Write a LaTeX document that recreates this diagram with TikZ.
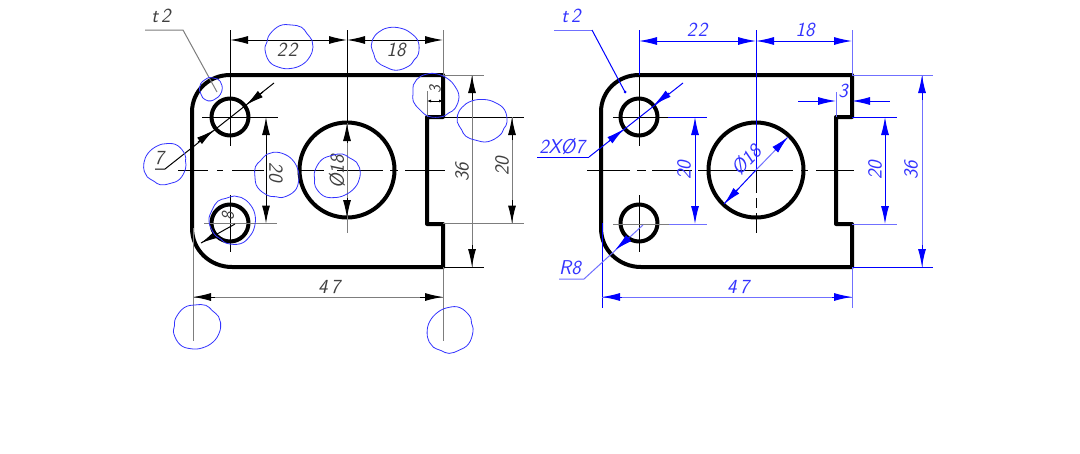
\documentclass[tikz,border=0pt]{standalone}
\usetikzlibrary{arrows.meta}
\definecolor{cadblue}{RGB}{0,0,255}
\definecolor{paleblue}{RGB}{112,112,255}
\definecolor{cadgray}{RGB}{125,125,125}
\tikzset{
  heavy/.style={line width=4pt,line join=round,black},
  thinblack/.style={line width=1pt,black},
  thingray/.style={line width=1pt,cadgray},
  thinblue/.style={line width=1pt,cadblue},
  thinpale/.style={line width=1pt,paleblue},
  twotip/.style={{Latex[length=18pt,width=8pt]}-{Latex[length=18pt,width=8pt]}},
  onetip/.style={-{Latex[length=18pt,width=8pt]}},
  lbl/.style={font=\fontsize{20}{20}\selectfont\sffamily\itshape,inner sep=0pt},
  lblk/.style={lbl,text=black!75},
  lblb/.style={lbl,text=cadblue!80!white},
  cloud/.style={line width=0.8pt,cadblue!80!white}
}
\newcommand{\plateshape}{%
  \draw[heavy] (192,112) .. controls (192,91) and (209,75) .. (230,75) -- (443,75) -- (443,117)
     -- (427,117) -- (427,224) -- (443,224) -- (443,267) -- (232,267)
     .. controls (210,267) and (192,250) .. (192,228) -- cycle;
  \draw[heavy] (230,117) circle[radius=18.5];
  \draw[heavy] (230,223) circle[radius=18.5];
  \draw[heavy] (347,170) circle[radius=47.5];
  \draw[thinblack] (230,195) -- (230,252);
}
\newcommand{\blob}[5]{%
  \begin{scope}[shift={(#1,#2)},rotate=#5,xscale=#3,yscale=#4]
    \draw[cloud] plot[smooth cycle,tension=0.7] coordinates
      {(1,0) (0.88,0.42) (0.55,0.80) (0.05,0.98) (-0.42,0.92) (-0.82,0.66) (-1,0.12)
       (-0.92,-0.22) (-0.80,-0.58) (-0.38,-0.97) (0.10,-1) (0.52,-0.90) (0.74,-0.62) (0.96,-0.30)};
  \end{scope}%
}
\begin{document}
\begin{tikzpicture}[x=1pt,y=-1pt]
\useasboundingbox[fill=white] (0,0) rectangle (1080,453);

%% ---------- left view ----------
\plateshape
\draw[thinblack] (178,170.3) -- (208,170.3) (217,170.3) -- (223,170.3) (232,170.3) -- (264,170.3)
   (298,170.3) -- (324,170.3) (337,170.3) -- (383,170.3) (390,170.3) -- (398,170.3) (405,170.3) -- (445,170.3);
\draw[thinblack] (230,30) -- (230,146);
\draw[thinblack] (347,30) -- (347,123);
\draw[thingray] (347,123) -- (347,233);
\draw[thingray] (443,30) -- (443,75);
\draw[thinblack] (202,117) -- (278,117);
\draw[thingray] (204,223.5) -- (277,223.5);
\draw[thingray] (443,75) -- (484,75);
\draw[thinblack] (427,117) -- (524,117);
\draw[thingray] (443,223.5) -- (524,223.5);
\draw[thinblack] (443,267) -- (484,267);
\draw[thingray] (193,228) -- (193,341);
\draw[thingray] (443,267) -- (443,341);
\draw[thingray] (427,91) -- (427,117);

\draw[thinblack,twotip] (230,40) -- (347,40);
\draw[thinblack,twotip] (347,40) -- (443,40);
\draw[thinblack,twotip] (266,117) -- (266,223.5);
\draw[thingray] (472,75) -- (472,267);
\draw[thinblack,onetip] (472,100) -- (472,75);
\draw[thinblack,onetip] (472,245) -- (472,267);
\draw[thingray] (512,117) -- (512,223.5);
\draw[thinblack,onetip] (512,140) -- (512,117);
\draw[thinblack,onetip] (512,200) -- (512,223.5);
\draw[thingray] (193,297) -- (443,297);
\draw[thinblack,onetip] (215,297) -- (193,297);
\draw[thinblack,onetip] (420,297) -- (443,297);
\draw[thinblack,{Latex[length=4pt,width=3pt]}-{Latex[length=4pt,width=3pt]}] (427,101) -- (443,101);
\draw[thinblack,onetip] (347,143) -- (347,123);
\draw[thinblack,onetip] (347,198) -- (347,218);

\draw[thingray] (145,30) -- (183,30) -- (217,92);
\draw[thinblack] (155,169) -- (165,169) -- (274,83);
\draw[thinblack,onetip] (263,92) -- (246,105);
\draw[thinblack,onetip] (198,142) -- (214,130);
\draw[thinblack] (235,224) -- (201,243);
\draw[thinblack,onetip] (217,234) -- (201,243);

\node[lblk] (a22) at (287,50) {2\kern1.5pt 2};
\node[lblk] (a18) at (396,50) {18};
\node[lblk] (at2) at (161,16) {t\kern3pt 2};
\node[lblk] (a7) at (159,158) {7};
\node[lblk,rotate=-90] (a20a) at (276,172) {20};
\node[lblk,rotate=90] (af18) at (337,172) {Ø18};
\node[lblk,rotate=90] (a36) at (462,172) {36};
\node[lblk,rotate=90] (a20b) at (502,166) {20};
\node[lblk] (a47) at (329,287) {4\kern3pt 7};
\node[lblk,rotate=90,font=\fontsize{17}{17}\selectfont\sffamily\itshape] (a3) at (435,90) {3};
\node[lblk,rotate=90,font=\fontsize{18}{18}\selectfont\sffamily\itshape] (a8) at (228,216) {8};

\blob{289}{47}{24}{22}{0}
\blob{395}{48}{24}{21}{160}
\blob{211}{89}{12}{11}{40}
\blob{165}{164}{22}{20}{200}
\blob{277}{175}{23}{22}{100}
\blob{337}{176}{24}{21}{20}
\blob{435}{95}{24}{21}{140}
\blob{482}{120}{25}{21}{170}
\blob{233}{220}{24}{23}{70}
\blob{197}{327}{24}{22}{10}
\blob{450}{330}{24}{22}{210}

%% ---------- right view ----------
\begin{scope}[xshift=409pt]
\plateshape
\end{scope}
\draw[thinblack] (587,170.3) -- (630,170.3) (637,170.3) -- (646,170.3) (652,170.3) -- (692,170.3)
   (698,170.3) -- (793,170.3) (801,170.3) -- (808,170.3) (816,170.3) -- (854,170.3);
\draw[thinblack] (756,170) -- (756,193) (756,198) -- (756,208) (756,213) -- (756,233);
\draw[thinblue] (756,30) -- (756,170);
\draw[thinblue] (639,30) -- (639,75);
\draw[thinblack] (639,75) -- (639,146);
\draw[thinpale] (852,30) -- (852,75);
\draw[thinblack] (613,117) -- (668,117);
\draw[thinblue] (668,117) -- (707,117);
\draw[thingray] (613,224) -- (669,224);
\draw[thinpale] (669,224) -- (707,224);
\draw[thinpale] (852,75) -- (933,75);
\draw[thinblue] (852,117) -- (897,117);
\draw[thinpale] (852,224) -- (897,224);
\draw[thinblue] (852,267) -- (933,267);
\draw[thinblue] (602,223) -- (602,308);
\draw[thinpale] (852,267) -- (852,308);
\draw[thinpale] (836,92) -- (836,117);

\draw[thinblue,twotip] (639,41) -- (756,41);
\draw[thinblue,twotip] (756,41) -- (852,41);
\draw[thinblue,twotip] (695,117) -- (695,224);
\draw[thinblue,twotip] (885,117) -- (885,224);
\draw[thinpale] (922,75) -- (922,267);
\draw[thinblue,onetip] (922,100) -- (922,75);
\draw[thinblue,onetip] (922,245) -- (922,267);
\draw[thinpale] (602,297) -- (852,297);
\draw[thinblue,onetip] (622,297) -- (602,297);
\draw[thinblue,onetip] (832,297) -- (852,297);
\draw[thinblue] (798,101) -- (817,101);
\draw[thinblue,onetip] (817,101) -- (836,101);
\draw[thinblue] (871,101) -- (890,101);
\draw[thinblue,onetip] (871,101) -- (852,101);

\draw[thinpale] (554,30) -- (592,30);
\draw[thinblue] (592,30) -- (625,92);
\fill[cadblue] (625,92) circle[radius=1.5];
\draw[thinblue] (537,157) -- (589,157);
\draw[thinblue] (589,157) -- (683,83);
\draw[thinblue,onetip] (669,93) -- (654,105);
\draw[thinblue,onetip] (609,141) -- (624,129);
\draw[thinpale] (559,279) -- (584,279) -- (643,225);
\draw[thinblue,onetip] (630,237) -- (615,250);
\draw[thinpale] (756,170) -- (788,137);
\draw[thinblue,onetip] (775,150) -- (788,137);
\draw[thinblue] (756,170) -- (724,204);
\draw[thinblue,onetip] (738,189) -- (724,204);

\node[lblb] (b22) at (697,30) {2\kern1.5pt 2};
\node[lblb] (b18) at (805,30) {18};
\node[lblb] (bt2) at (571,16) {t\kern3pt 2};
\node[lblb] (bd7) at (562,147) {2XØ7};
\node[lblb,rotate=90] (b20a) at (684,170) {20};
\node[lblb,rotate=46] (bf18) at (746,160) {Ø18};
\node[lblb,rotate=90] (b20b) at (875,170) {20};
\node[lblb,rotate=90] (b36) at (911,170) {36};
\node[lblb] (b47) at (738,287) {4\kern3pt 7};
\node[lblb] (b3) at (843,91) {3};
\node[lblb] (br8) at (570,268) {R8};
\end{tikzpicture}
\end{document}
